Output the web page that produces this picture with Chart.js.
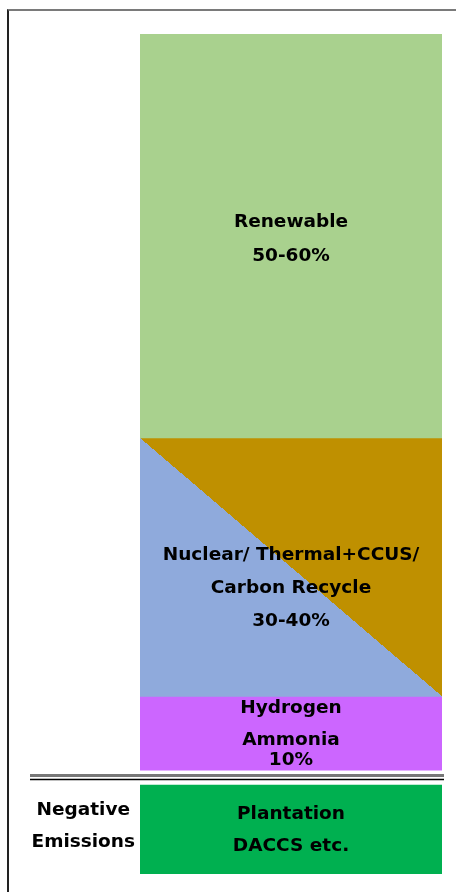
<!DOCTYPE html>
<html>
  <head>
    <meta charset="utf-8" />
    <title>Power mix 2050</title>
    <script src="https://cdn.jsdelivr.net/npm/chart.js@4.4.1/dist/chart.umd.min.js"></script>
    <style>
      body { margin: 0; background: #fff; }
      #frame {
        position: absolute; left: 7px; top: 9px; right: 0; bottom: 0;
        border-top: 2px solid #7a7a7a; border-left: 2px solid #222;
      }
      #myChart { position: absolute; left: 0; top: 0; }
    </style>
  </head>
  <body>
    <div id="frame"></div>
    <canvas id="myChart" width="456" height="892"></canvas>
    <script>
      // one column, blocks stacked as floating ranges (arbitrary height units)
      const categories = ["2050"];
      const blockNames = ["Renewable", "Nuclear/Thermal+CCUS/Carbon Recycle", "Hydrogen Ammonia", "Negative Emissions"];
      const renewable = [108, 208];
      const nuclearThermal = [44, 108];
      const hydrogenAmmonia = [25.7, 44];
      const negative = [0, 22];
      const separatorValue = 24;
      const blockLabels = [
        ["Renewable", "50-60%"],
        ["Nuclear/ Thermal+CCUS/", "Carbon Recycle", "30-40%"],
        ["Hydrogen", "Ammonia", "10%"],
        ["Plantation", "DACCS etc."],
      ];
      const sideLabel = ["Negative", "Emissions"];

      const FONT = '"DejaVu Sans", Verdana, sans-serif';
      const blue = "#8FAADC";
      const gold = "#BF9000";

      // blue lower-left / gold upper-right split along the diagonal
      function splitFill(ctx) {
        const chart = ctx.chart;
        const area = chart.chartArea;
        if (!area || !chart.scales.y) return blue;
        const y = chart.scales.y;
        const top = y.getPixelForValue(nuclearThermal[1]);
        const bottom = y.getPixelForValue(nuclearThermal[0]);
        const w = area.right - area.left, h = bottom - top;
        const cx = (area.left + area.right) / 2, cy = (top + bottom) / 2;
        const g = chart.ctx.createLinearGradient(cx - h / 2, cy + w / 2, cx + h / 2, cy - w / 2);
        g.addColorStop(0, blue);
        g.addColorStop(0.5, blue);
        g.addColorStop(0.5, gold);
        g.addColorStop(1, gold);
        return g;
      }

      const blockText = {
        id: "blockText",
        afterDatasetsDraw(chart, args, opts) {
          const ctx = chart.ctx;
          ctx.save();
          ctx.font = opts.font;
          ctx.fillStyle = "#000";
          ctx.textAlign = "center";
          ctx.textBaseline = "middle";
          chart.data.datasets.forEach((ds, i) => {
            const bar = chart.getDatasetMeta(i).data[0];
            const cy = (bar.y + bar.base) / 2;
            blockLabels[i].forEach((line, j) => {
              ctx.fillText(line, bar.x, cy + opts.offsets[i][j]);
            });
          });
          // double separator above negative emissions
          const sy = chart.scales.y.getPixelForValue(separatorValue);
          ctx.strokeStyle = "#777";
          ctx.lineWidth = 3;
          ctx.beginPath(); ctx.moveTo(30, sy - 1.5); ctx.lineTo(444, sy - 1.5); ctx.stroke();
          ctx.strokeStyle = "#000";
          ctx.lineWidth = 1.5;
          ctx.beginPath(); ctx.moveTo(30, sy + 2.5); ctx.lineTo(444, sy + 2.5); ctx.stroke();
          ctx.restore();
        },
      };

      const data = {
        labels: categories,
        datasets: [
          { label: blockNames[0], data: [renewable], backgroundColor: "#A9D18E" },
          { label: blockNames[1], data: [nuclearThermal], backgroundColor: splitFill },
          { label: blockNames[2], data: [hydrogenAmmonia], backgroundColor: "#CC66FF" },
          { label: blockNames[3], data: [negative], backgroundColor: "#00B050" },
        ],
      };

      const config = {
        type: "bar",
        data: data,
        options: {
          responsive: false,
          animation: false,
          layout: { padding: { top: 34, bottom: 18, right: 14, left: 0 } },
          datasets: { bar: { grouped: false, barPercentage: 1, categoryPercentage: 1, borderWidth: 0 } },
          scales: {
            x: { display: false },
            y: {
              min: 0,
              max: 208,
              border: { display: false },
              grid: { display: false, drawTicks: false },
              afterBuildTicks: (scale) => { scale.ticks = [{ value: 11.8 }]; },
              afterFit: (scale) => {
                scale.width = 140;
                scale.paddingTop = 0;
                scale.paddingBottom = 0;
              },
              ticks: {
                autoSkip: false,
                crossAlign: "center",
                padding: 5,
                color: "#000",
                font: { family: FONT, size: 18.5, weight: "bold", lineHeight: 1.73 },
                callback: () => sideLabel,
              },
            },
          },
          plugins: {
            legend: { display: false },
            tooltip: { enabled: false },
            blockText: {
              font: "bold 18.5px " + FONT,
              offsets: [[-14, 20], [-12, 21, 54], [-25, 7, 27], [-15, 17]],
            },
          },
        },
        plugins: [blockText],
      };

      const myChart = new Chart(document.getElementById("myChart"), config);
    </script>
  </body>
</html>
